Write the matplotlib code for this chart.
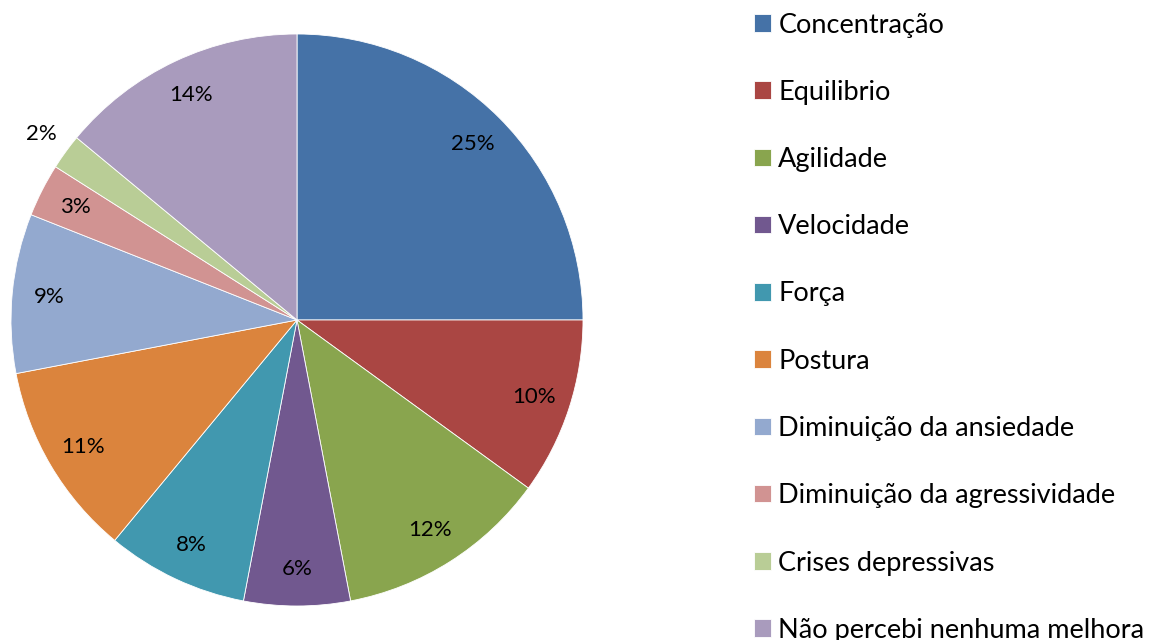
import numpy as np
import matplotlib
matplotlib.use("Agg")
import matplotlib.pyplot as plt

categories = ["Concentração", "Equilibrio", "Agilidade", "Velocidade", "Força",
              "Postura", "Diminuição da ansiedade", "Diminuição da agressividade",
              "Crises depressivas", "Não percebi nenhuma melhora"]
values = [25, 10, 12, 6, 8, 11, 9, 3, 2, 14]
colors = ["#4572A7", "#AA4643", "#89A54E", "#71588F", "#4198AF",
          "#DB843D", "#93A9CF", "#D19392", "#B9CD96", "#A99BBD"]
outside_labels = ["Crises depressivas"]

plt.rcParams['font.family'] = ['Lato', 'DejaVu Sans']

W, H = 1154, 640
fig = plt.figure(figsize=(W / 100, H / 100), dpi=100)
fig.patch.set_facecolor("white")

cx, cy, r = 297, 320, 286
ax = fig.add_axes([(cx - r) / W, (H - cy - r) / H, 2 * r / W, 2 * r / H])

wedges, texts, autotexts = ax.pie(values, colors=colors, startangle=90, counterclock=False,
                                  radius=1, autopct="%1.0f%%", pctdistance=0.87,
                                  wedgeprops=dict(edgecolor="white", linewidth=0.6),
                                  textprops=dict(fontsize=16, color="black"))
ax.set_xlim(-1, 1)
ax.set_ylim(-1, 1)
ax.set_aspect("equal")
ax.axis("off")
for w, t, cat in zip(wedges, autotexts, categories):
    if cat in outside_labels:
        ang = np.deg2rad((w.theta1 + w.theta2) / 2)
        t.set_position((1.105 * np.cos(ang), 1.105 * np.sin(ang)))
    t.set_clip_on(False)

leg = fig.legend(wedges, categories, loc="upper left",
                 bbox_to_anchor=(754 / W, 1 - 12.5 / H), frameon=False,
                 fontsize=19.5, handlelength=0.62, handleheight=0.62,
                 handletextpad=0.28, labelspacing=1.56, borderpad=0, borderaxespad=0)

fig.savefig("out.png", dpi=100, facecolor="white")
